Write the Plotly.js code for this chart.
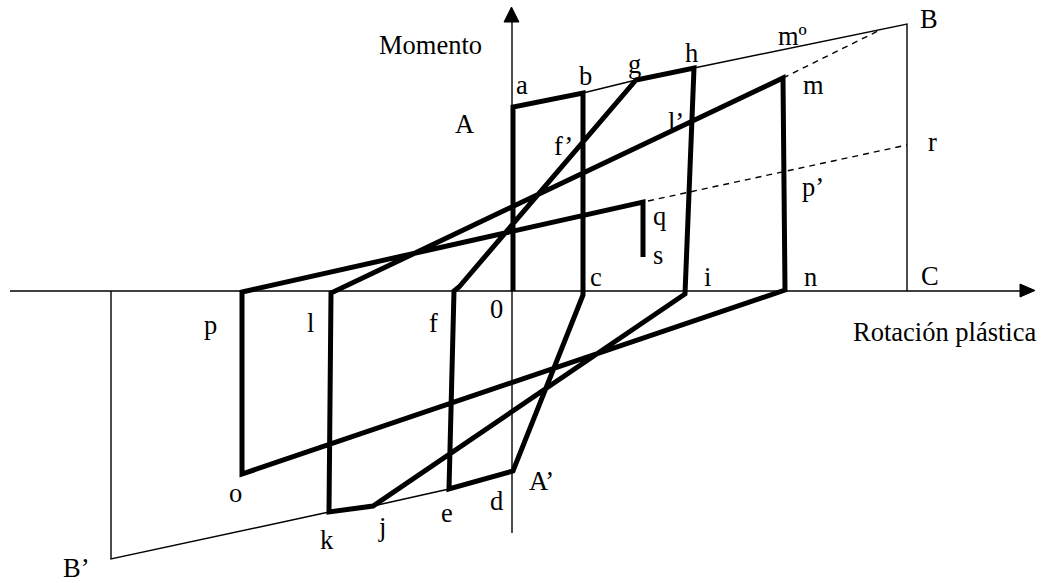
<!DOCTYPE html>
<html>
<head>
<meta charset="utf-8">
<script src="https://cdn.plot.ly/plotly-3.0.1.min.js"></script>
<style>html,body{margin:0;padding:0;background:#fff;}#chart{width:1041px;height:583px;}</style>
</head>
<body>
<div id="chart"></div>
<script>
// Hysteresis path (rotation, moment) in diagram units: 0-A-b-c-A'-e-f-g-h-i-j-k-l-m-n-o-p-q-s
const pathX = [513, 513, 583, 583, 513, 449, 454, 459, 636, 694, 685, 373, 329, 331, 783, 785, 242, 242, 643, 643];
const pathY = [291, 107, 93, 295, 471, 489, 291, 287, 80, 68, 294, 506, 512, 293, 78, 290, 474, 292, 202, 257];

// Envelope (thin lines): B' vertical + lower envelope pieces, upper envelope pieces, B vertical
const envLowX = [111, 111, 329];
const envLowY = [291, 559, 512];
const envLow2X = [373, 449];
const envLow2Y = [506, 489];
const envUp1X = [583, 636];
const envUp1Y = [93, 80];
const envUp2X = [694, 907, 907];
const envUp2Y = [68, 24, 291];

// Dashed reference lines: m -> mº and q -> r
const dash1X = [783, 878];
const dash1Y = [78, 31];
const dash2X = [648, 907];
const dash2Y = [201, 145];

// Axes
const xAxisX = [10, 1022];
const xAxisY = [291, 291];
const yAxisX = [512, 512];
const yAxisY = [533, 20];
const xHeadX = [1020, 1035, 1020, 1020];
const xHeadY = [284, 290.5, 297, 284];
const yHeadX = [504, 511.5, 519, 504];
const yHeadY = [22, 7, 22, 22];

// Labels
const labelText = ["Momento", "a", "b", "g", "h", "mº", "B", "A", "f’", "l’", "m", "r", "p’", "q", "s", "c", "i", "n", "C", "0", "p", "l", "f", "Rotación plástica", "A’", "o", "d", "e", "j", "k", "B’"];
const labelX = [430, 522, 585, 634, 691, 792, 929, 464, 563, 676, 813, 932, 813, 659, 658, 596, 707, 810, 930, 496, 210, 310, 433, 944, 541, 235, 496, 447, 382, 327, 76];
const labelY = [45, 85, 76, 64, 53, 36, 19, 124, 146, 122, 85, 142, 187, 216, 255, 277, 277, 277, 276, 309, 325, 323, 323, 332, 481, 493, 501, 513, 527, 540, 568];

const black = '#000';
function line(x, y, w, dash) {
  return {x: x, y: y, type: 'scatter', mode: 'lines', hoverinfo: 'skip', showlegend: false,
    line: {color: black, width: w, dash: dash || 'solid'}};
}
function head(x, y) {
  return {x: x, y: y, type: 'scatter', mode: 'lines', fill: 'toself', fillcolor: black, hoverinfo: 'skip', showlegend: false,
    line: {color: black, width: 1}};
}

const traces = [
  line(xAxisX, xAxisY, 1.6),
  line(yAxisX, yAxisY, 1.4),
  head(xHeadX, xHeadY),
  head(yHeadX, yHeadY),
  line(envLowX, envLowY, 1.4),
  line(envLow2X, envLow2Y, 1.4),
  line(envUp1X, envUp1Y, 1.4),
  line(envUp2X, envUp2Y, 1.4),
  line(dash1X, dash1Y, 1.4, '6px,5px'),
  line(dash2X, dash2Y, 1.4, '6px,5px'),
  line(pathX, pathY, 5)
];

const annotations = labelText.map((t, i) => ({
  x: labelX[i], y: labelY[i], text: t, showarrow: false, xanchor: 'center', yanchor: 'middle',
  font: {family: 'Times New Roman', size: 26.5, color: black}
}));

const layout = {
  width: 1041, height: 583,
  margin: {l: 0, r: 0, t: 0, b: 0},
  paper_bgcolor: '#fff', plot_bgcolor: '#fff',
  font: {family: 'Times New Roman'},
  xaxis: {range: [0, 1041], visible: false, fixedrange: true},
  yaxis: {range: [583, 0], visible: false, fixedrange: true},
  annotations: annotations,
  showlegend: false
};

Plotly.newPlot('chart', traces, layout, {staticPlot: true, displayModeBar: false});
</script>
</body>
</html>
